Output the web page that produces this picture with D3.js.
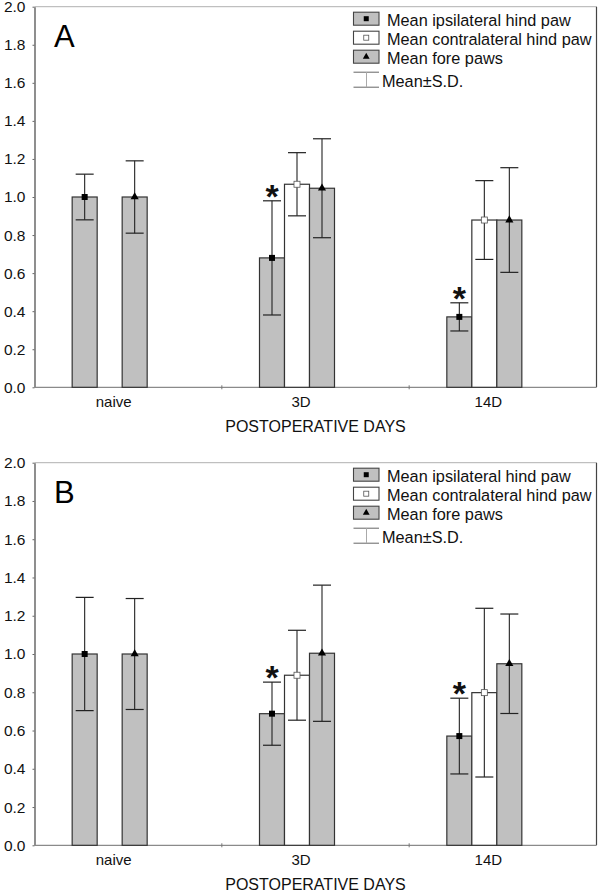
<!DOCTYPE html>
<html><head><meta charset="utf-8">
<script src="https://cdn.jsdelivr.net/npm/d3@7"></script>
<style>
body{margin:0;background:#fff;}
svg{display:block;font-family:Arial,"Liberation Sans",sans-serif;}
</style></head>
<body>
<svg id="chart" width="600" height="892"></svg>
<script>
// ---- data ----
const categories = ["naive", "3D", "14D"];
const seriesNames = ["Mean ipsilateral hind paw", "Mean contralateral hind paw", "Mean fore paws"];
const sdLabel = "Mean\u00B1S.D.";
const yTickValues = [0, 0.2, 0.4, 0.6, 0.8, 1.0, 1.2, 1.4, 1.6, 1.8, 2.0];
const xTitle = "POSTOPERATIVE DAYS";

// Panel A
const A_ipsi = [1.0, 0.68, 0.37];
const A_ipsiSD = [0.12, 0.30, 0.074];
const A_contra = [null, 1.067, 0.879];
const A_contraSD = [null, 0.166, 0.207];
const A_fore = [1.0, 1.046, 0.879];
const A_foreSD = [0.19, 0.26, 0.275];
const A_signif = [false, true, true];

// Panel B
const B_ipsi = [1.0, 0.688, 0.571];
const B_ipsiSD = [0.296, 0.165, 0.198];
const B_contra = [null, 0.889, 0.798];
const B_contraSD = [null, 0.235, 0.441];
const B_fore = [1.0, 1.004, 0.949];
const B_foreSD = [0.29, 0.356, 0.26];
const B_signif = [false, true, true];

// ---- drawing ----
const svg = d3.select("#chart");
const fills = ["#c0c0c0", "#ffffff", "#c0c0c0"];

function drawPanel(cfg) {
  const {letter, top, bottom, ipsi, ipsiSD, contra, contraSD, fore, foreSD, signif} = cfg;
  const left = 34.5, right = 596.5;
  const g = svg.append("g");
  const y = d3.scaleLinear().domain([0, 2]).range([bottom, top]);
  const x = d3.scaleBand().domain(categories).range([left, right]).paddingInner(0).paddingOuter(0);
  const inner = d3.scaleBand().domain([0, 1, 2]).range([-37.5, 37.5]);
  const groupCenter = c => x(c) + x.bandwidth() / 2 - 18.5;

  // frame: top (light) and right (dark)
  g.append("line").attr("x1", left).attr("x2", right).attr("y1", y(2)).attr("y2", y(2))
    .attr("stroke", "#b0b0b0").attr("stroke-width", 1);
  g.append("line").attr("x1", right).attr("x2", right).attr("y1", y(2)).attr("y2", y(0))
    .attr("stroke", "#444").attr("stroke-width", 1.2);

  // y axis
  const ya = g.append("g").attr("transform", `translate(${left},0)`)
    .call(d3.axisLeft(y).tickValues(yTickValues).tickFormat(d3.format(".1f")).tickSizeInner(2).tickSizeOuter(0).tickPadding(7));
  ya.select(".domain").attr("stroke", "#444").attr("stroke-width", 1.2);
  ya.selectAll(".tick line").attr("stroke", "#666");
  ya.selectAll(".tick text").attr("font-size", 15.5).attr("fill", "#111").attr("font-family", "Arial, 'Liberation Sans', sans-serif");

  // x baseline and category ticks
  g.append("line").attr("x1", left).attr("x2", right).attr("y1", y(0)).attr("y2", y(0))
    .attr("stroke", "#8a8a8a").attr("stroke-width", 1.2);
  categories.slice(1).forEach(c => {
    g.append("line").attr("x1", x(c)).attr("x2", x(c)).attr("y1", y(0) - 2).attr("y2", y(0) + 2)
      .attr("stroke", "#777").attr("stroke-width", 1);
  });
  categories.forEach(c => {
    g.append("text").attr("x", x(c) + x.bandwidth() / 2 - 14.5).attr("y", y(0) + 19.5)
      .attr("text-anchor", "middle").attr("font-size", 15).attr("fill", "#111").text(c);
  });
  g.append("text").attr("x", (left + right) / 2).attr("y", y(0) + 44.5)
    .attr("text-anchor", "middle").attr("font-size", 16).attr("fill", "#111").text(xTitle);

  // bars
  const series = [[ipsi, ipsiSD], [contra, contraSD], [fore, foreSD]];
  series.forEach(([vals, sds], si) => {
    categories.forEach((c, ci) => {
      const v = vals[ci];
      if (v == null) return;
      const cx = groupCenter(c) + inner(si) + inner.bandwidth() / 2;
      g.append("rect").attr("x", groupCenter(c) + inner(si)).attr("y", y(v))
        .attr("width", inner.bandwidth()).attr("height", y(0) - y(v))
        .attr("fill", fills[si]).attr("stroke", "#333").attr("stroke-width", 1.2);
      // error bar
      const sd = sds[ci];
      const cap = 9;
      g.append("line").attr("x1", cx).attr("x2", cx).attr("y1", y(v + sd)).attr("y2", y(v - sd))
        .attr("stroke", "#222").attr("stroke-width", 1.1);
      [v + sd, v - sd].forEach(e => {
        g.append("line").attr("x1", cx - cap).attr("x2", cx + cap).attr("y1", y(e)).attr("y2", y(e))
          .attr("stroke", "#222").attr("stroke-width", 1.2);
      });
      drawMarker(g, si, cx, y(v), 6);
      if (si === 0 && signif[ci]) {
        const fs = 34;
        g.append("text").attr("x", cx).attr("y", y(v + sd) - 11.5 + 0.55 * fs)
          .attr("text-anchor", "middle").attr("font-size", fs).attr("font-weight", "bold")
          .attr("fill", "#111").text("*");
      }
    });
  });

  // panel letter
  g.append("text").attr("x", 54).attr("y", top + 40.5).attr("font-size", 31).attr("fill", "#000").text(letter);

  // legend
  const lx = 353.5, lTop = top + 5.5, rowH = 19;
  seriesNames.forEach((name, i) => {
    const ry = lTop + i * rowH;
    g.append("rect").attr("x", lx).attr("y", ry).attr("width", 25.5).attr("height", 13)
      .attr("fill", fills[i]).attr("stroke", "#444").attr("stroke-width", 1.1);
    drawMarker(g, i, lx + 12.75, ry + 6.5, 5);
    g.append("text").attr("x", 387).attr("y", ry + 13.3).attr("font-size", 16.3).attr("fill", "#111").text(name);
  });
  const sy1 = lTop + 3 * rowH + 3, sy2 = sy1 + 15;
  g.append("line").attr("x1", lx).attr("x2", lx + 25.5).attr("y1", sy1).attr("y2", sy1).attr("stroke", "#666");
  g.append("line").attr("x1", lx).attr("x2", lx + 25.5).attr("y1", sy2).attr("y2", sy2).attr("stroke", "#666");
  g.append("line").attr("x1", lx + 13).attr("x2", lx + 13).attr("y1", sy1).attr("y2", sy2).attr("stroke", "#aaa");
  g.append("text").attr("x", 382).attr("y", sy2).attr("font-size", 16.3).attr("fill", "#111").text(sdLabel);
}

function drawMarker(g, si, cx, cy, s) {
  if (si === 0) {
    g.append("rect").attr("x", cx - s / 2).attr("y", cy - s / 2).attr("width", s).attr("height", s).attr("fill", "#000");
  } else if (si === 1) {
    g.append("rect").attr("x", cx - s / 2).attr("y", cy - s / 2).attr("width", s).attr("height", s)
      .attr("fill", "#fff").attr("stroke", "#555").attr("stroke-width", 0.8);
  } else {
    const sym = d3.symbol().type(d3.symbolTriangle).size(s * s * 0.8);
    g.append("path").attr("d", sym()).attr("transform", `translate(${cx},${cy})`).attr("fill", "#000");
  }
}

drawPanel({letter: "A", top: 6.7, bottom: 387.3, ipsi: A_ipsi, ipsiSD: A_ipsiSD, contra: A_contra, contraSD: A_contraSD, fore: A_fore, foreSD: A_foreSD, signif: A_signif});
drawPanel({letter: "B", top: 462.7, bottom: 845.3, ipsi: B_ipsi, ipsiSD: B_ipsiSD, contra: B_contra, contraSD: B_contraSD, fore: B_fore, foreSD: B_foreSD, signif: B_signif});
</script>
</body></html>
